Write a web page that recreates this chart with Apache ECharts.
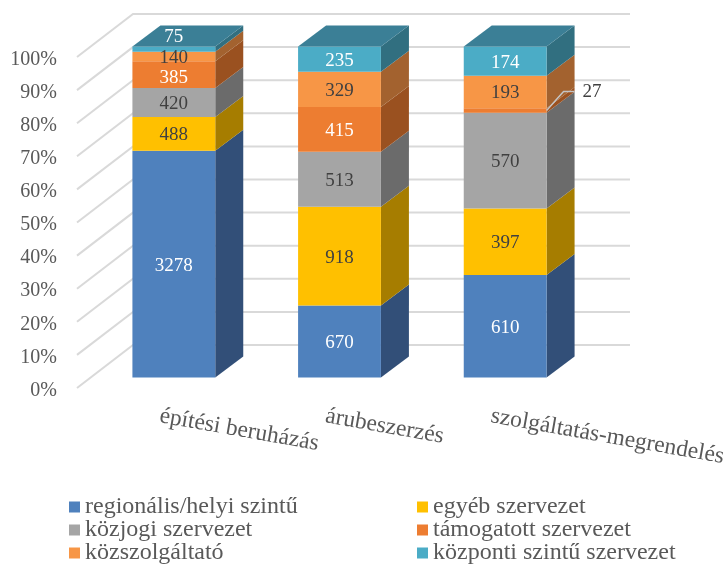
<!DOCTYPE html>
<html>
<head>
<meta charset="utf-8">
<style>
  html, body { margin: 0; padding: 0; background: #fff; }
  #main { width: 728px; height: 565px; }
</style>
<script src="https://cdn.jsdelivr.net/npm/echarts@6/dist/echarts.min.js"></script>
</head>
<body>
<div id="main"></div>
<script>
const categories = ['építési beruházás', 'árubeszerzés', 'szolgáltatás-megrendelés'];
const seriesNames = ['regionális/helyi szintű', 'egyéb szervezet', 'közjogi szervezet', 'támogatott szervezet', 'közszolgáltató', 'központi szintű szervezet'];
const regionalis = [3278, 670, 610];
const egyeb = [488, 918, 397];
const kozjogi = [420, 513, 570];
const tamogatott = [385, 415, 27];
const kozszolgaltato = [140, 329, 193];
const kozponti = [75, 235, 174];
const gridTicks = [0, 10, 20, 30, 40, 50, 60, 70, 80, 90, 100];

const allValues = [regionalis, egyeb, kozjogi, tamogatott, kozszolgaltato, kozponti];
const frontColors = ['#4f81bd', '#ffc000', '#a5a5a5', '#ed7d31', '#f79646', '#4bacc6'];
const sideColors = ['#324f78', '#a67d00', '#6b6b6b', '#9a5120', '#a3622f', '#316f80'];
const labelColors = ['#fff', '#404040', '#404040', '#fff', '#404040', '#fff'];
const topColor = '#3b7f96';
const FONT = '"Liberation Serif", serif';

// 3d look: the grid is the front of the floor, bars and back wall are pushed back from it
const barShift = [14, -10.5];
const barDepth = [28, -21];
const wallShift = [56, -43];

// labels that do not sit in the middle of their segment, key = series-category
const labelMoves = {
  '5-0': { dy: -14 },
  '3-0': { dy: 1.5 },
  '3-2': { outside: true }
};

function percentStack(s, c) {
  let total = 0, base = 0;
  allValues.forEach((arr, i) => {
    total += arr[c];
    if (i < s) base += arr[c];
  });
  return [base / total * 100, (base + allValues[s][c]) / total * 100];
}

function renderSegment(s, params, api) {
  const c = api.value(0);
  const bottom = api.coord([c, api.value(1)]);
  const top = api.coord([c, api.value(2)]);
  const w = api.size([1, 0])[0] * 0.5;
  const x0 = bottom[0] - w / 2 + barShift[0];
  const x1 = x0 + w;
  const yb = bottom[1] + barShift[1];
  const yt = top[1] + barShift[1];
  const dx = barDepth[0], dy = barDepth[1];
  const kids = [
    { type: 'polygon', shape: { points: [[x1, yb], [x1 + dx, yb + dy], [x1 + dx, yt + dy], [x1, yt]] },
      style: { fill: sideColors[s] } },
    { type: 'rect', shape: { x: x0, y: yt, width: w, height: yb - yt }, style: { fill: frontColors[s] } }
  ];
  if (s === allValues.length - 1) {
    kids.push({ type: 'polygon', shape: { points: [[x0, yt], [x0 + dx, yt + dy], [x1 + dx, yt + dy], [x1, yt]] },
      style: { fill: topColor } });
  }
  const move = labelMoves[s + '-' + c] || {};
  const midY = (yb + yt) / 2;
  if (move.outside) {
    kids.push({ type: 'polyline', z2: 20, shape: { points: [[x1, midY], [x1 + 17, midY - 19], [x1 + dx, midY - 19]] },
      style: { stroke: '#c4c4c4', lineWidth: 1.5, fill: null } });
    kids.push({ type: 'text', z2: 20, style: { text: String(api.value(3)), x: x1 + 36, y: midY - 18, fill: '#404040',
      font: '19px ' + FONT, align: 'left', verticalAlign: 'middle' } });
  } else {
    kids.push({ type: 'text', z2: 20, style: { text: String(api.value(3)), x: (x0 + x1) / 2, y: midY + 1.5 + (move.dy || 0),
      fill: labelColors[s], font: '19px ' + FONT, align: 'center', verticalAlign: 'middle' } });
  }
  return { type: 'group', children: kids };
}

function renderWall(params, api) {
  const g = params.coordSys;
  const y = api.coord([0, api.value(1)])[1];
  const xb = g.x + wallShift[0], yb = y + wallShift[1];
  const st = { stroke: '#d9d9d9', lineWidth: 2, fill: null };
  return { type: 'polyline', shape: { points: [[g.x, y], [xb, yb], [xb + g.width, yb]] }, style: st };
}

const series = [{
  name: 'wall',
  type: 'custom',
  silent: true,
  renderItem: renderWall,
  encode: { x: 0, y: 1 },
  data: gridTicks.map(t => [0, t])
}];
seriesNames.forEach((name, s) => {
  series.push({
    name: name,
    type: 'custom',
    itemStyle: { color: frontColors[s] },
    renderItem: (params, api) => renderSegment(s, params, api),
    encode: { x: 0, y: [1, 2] },
    data: categories.map((n, c) => {
      const p = percentStack(s, c);
      return [c, p[0], p[1], allValues[s][c]];
    })
  });
});

const legendBase = {
  orient: 'vertical',
  top: 495,
  height: 100,
  padding: 0,
  icon: 'rect',
  itemWidth: 11,
  itemHeight: 11,
  itemGap: -1,
  selectedMode: false,
  textStyle: { color: '#595959', fontSize: 24, lineHeight: 20, fontFamily: FONT }
};

const myChart = echarts.init(document.getElementById('main'));
myChart.setOption({
  animation: false,
  backgroundColor: '#fff',
  grid: { left: 77, top: 57, width: 497, height: 331, outerBoundsMode: 'none' },
  legend: [
    Object.assign({}, legendBase, { left: 69, data: [seriesNames[0], seriesNames[2], seriesNames[4]] }),
    Object.assign({}, legendBase, { left: 417, data: [seriesNames[1], seriesNames[3], seriesNames[5]] })
  ],
  xAxis: {
    type: 'category',
    data: categories,
    axisLine: { show: false },
    axisTick: { show: false },
    axisLabel: { rotate: -10, margin: 28, interval: 0, color: '#595959', fontSize: 23.5, fontFamily: FONT }
  },
  yAxis: {
    type: 'value',
    min: 0,
    max: 100,
    interval: 10,
    axisLine: { show: false },
    axisTick: { show: false },
    splitLine: { show: false },
    axisLabel: {
      margin: 20,
      formatter: '{p|{value}%}',
      rich: { p: { padding: [5, 0, 0, 0], color: '#595959', fontSize: 20, fontFamily: FONT } }
    }
  },
  series: series
});
</script>
</body>
</html>
